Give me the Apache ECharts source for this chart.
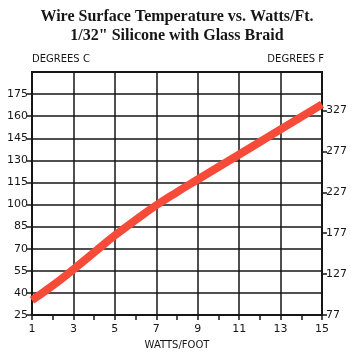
<!DOCTYPE html>
<html>
<head>
<meta charset="utf-8">
<script src="https://cdn.jsdelivr.net/npm/echarts@6/dist/echarts.min.js"></script>
<style>
  html, body { margin: 0; padding: 0; background: #ffffff; }
  #chart { width: 354px; height: 357px; }
</style>
</head>
<body>
<div id="chart"></div>
<script>
// watts per foot (x axis categories)
var watts = ["1", "2", "3", "4", "5", "6", "7", "8", "9", "10", "11", "12", "13", "14", "15"];
// wire surface temperature, degrees C
var tempC = [35, 45, 56, 67.5, 79, 89.5, 99.5, 108.5, 117, 125.5, 134, 142.5, 151, 159.5, 168];
// axis ranges
var cRange = [25, 190];
var fRange = [77, 374];
var cStep = 15;
var fStep = 50;

var axisFont = "DejaVu Sans";
var ink = "#161616";

var myChart = echarts.init(document.getElementById("chart"));
myChart.setOption({
  backgroundColor: "#ffffff",
  animation: false,
  title: {
    text: 'Wire Surface Temperature vs. Watts/Ft.\n1/32" Silicone with Glass Braid',
    left: "center",
    top: 2,
    textStyle: {
      fontFamily: "Liberation Serif",
      fontWeight: "bold",
      fontSize: 16,
      lineHeight: 19,
      color: ink
    }
  },
  grid: {
    left: 32,
    right: 32,
    top: 72,
    bottom: 42,
    show: true,
    borderColor: ink,
    borderWidth: 2
  },
  graphic: [
    {
      type: "text",
      left: 32,
      top: 54,
      style: { text: "DEGREES C", font: "10px " + axisFont, fill: ink }
    },
    {
      type: "text",
      right: 30,
      top: 54,
      style: { text: "DEGREES F", font: "10px " + axisFont, fill: ink }
    },
    {
      type: "text",
      left: "center",
      top: 340,
      style: { text: "WATTS/FOOT", font: "10px " + axisFont, fill: ink }
    }
  ],
  xAxis: {
    type: "category",
    data: watts,
    boundaryGap: false,
    axisLine: { show: true, lineStyle: { color: ink, width: 2 } },
    axisTick: { show: true, interval: 0, length: 5, lineStyle: { color: ink, width: 1.5 } },
    axisLabel: {
      interval: 1,
      margin: 9,
      fontFamily: axisFont,
      fontSize: 11,
      color: ink
    },
    splitLine: { show: true, interval: 1, lineStyle: { color: ink, width: 1.5 } }
  },
  yAxis: [
    {
      type: "value",
      min: cRange[0],
      max: cRange[1],
      interval: cStep,
      position: "left",
      axisLine: { show: true, lineStyle: { color: ink, width: 2 } },
      axisTick: { show: true, length: 5, lineStyle: { color: ink, width: 1.5 } },
      axisLabel: {
        showMaxLabel: false,
        margin: 4,
        fontFamily: axisFont,
        fontSize: 11,
        color: ink
      },
      splitLine: { show: true, lineStyle: { color: ink, width: 1.5 } }
    },
    {
      type: "value",
      min: fRange[0],
      max: fRange[1],
      interval: fStep,
      position: "right",
      axisLine: { show: true, lineStyle: { color: ink, width: 2 } },
      axisTick: { show: true, length: 5, lineStyle: { color: ink, width: 1.5 } },
      axisLabel: {
        showMaxLabel: false,
        margin: 4,
        fontFamily: axisFont,
        fontSize: 11,
        color: ink
      },
      splitLine: { show: false }
    }
  ],
  series: [
    {
      name: "Surface Temperature",
      type: "line",
      yAxisIndex: 0,
      data: tempC,
      smooth: 0.5,
      symbol: "none",
      lineStyle: { color: "#f74b3a", width: 8 }
    }
  ]
});
</script>
</body>
</html>
